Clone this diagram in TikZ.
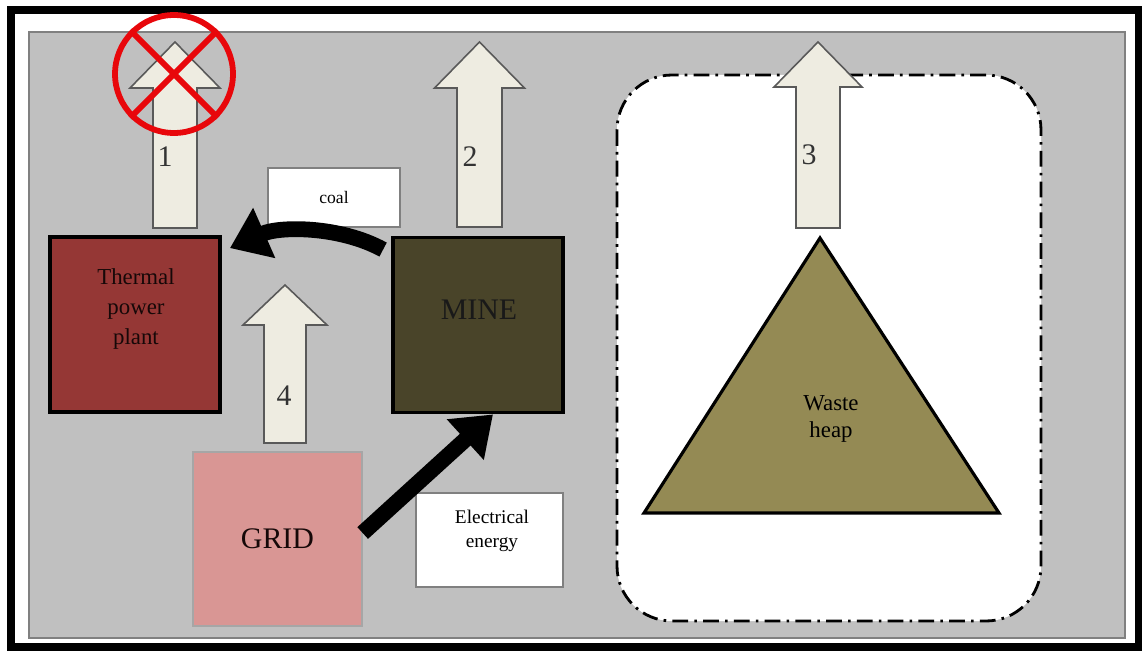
\documentclass[tikz,border=0pt]{standalone}
\usepackage{fontspec}
\setmainfont{Liberation Serif}
\usetikzlibrary{arrows.meta,calc,positioning}
\definecolor{PanelGray}{HTML}{C0C0C0}
\definecolor{PanelEdge}{HTML}{808080}
\definecolor{PlantRed}{HTML}{953735}
\definecolor{MineOlive}{HTML}{494429}
\definecolor{GridPink}{HTML}{D99694}
\definecolor{HeapOlive}{HTML}{948A54}
\definecolor{Emission}{HTML}{EEECE1}
\definecolor{EmissionEdge}{HTML}{595959}
\definecolor{BanRed}{HTML}{E8070B}
\tikzset{
  site/.style={draw=black, line width=2.2pt, minimum width=3.4cm, minimum height=3.5cm, inner sep=0pt},
  tag/.style={draw=PanelEdge, fill=white, line width=0.8pt, inner sep=0pt},
  emission/.style={draw=EmissionEdge, fill=Emission, line width=0.9pt, line join=miter},
  supply/.style={-{Triangle[length=0.75cm,width=1.05cm]}, line width=9pt, draw=black},
  boxtext/.style={align=center, font=\fontsize{13}{17}\selectfont},
  numtext/.style={font=\fontsize{17}{20}\selectfont, text=black!80}
}
% centre x, foot y, shoulder y, tip y, half shaft, half head
\newcommand{\emissionarrow}[6]{%
  \draw[emission] ({#1-#5},#2) -- ({#1-#5},#3) -- ({#1-#6},#3) -- (#1,#4)
    -- ({#1+#6},#3) -- ({#1+#5},#3) -- ({#1+#5},#2) -- cycle;}

\begin{document}
\begin{tikzpicture}[x=0.02cm,y=-0.02cm]
  \useasboundingbox (0,0) rectangle (1146,652);
  % frame and panel
  \draw[line width=4pt] (11,10) rectangle (1138,647);
  \draw[fill=PanelGray, draw=PanelEdge, line width=1.2pt] (29,32) rectangle (1125,638);
  % waste heap zone
  \draw[fill=white, line width=1.6pt, rounded corners=1.1cm,
    dash pattern=on 9pt off 3.5pt on 1.5pt off 3.5pt] (617,75) rectangle (1041,621);
  \draw[fill=HeapOlive, line width=1.8pt, line join=miter] (644,513) -- (820,238) -- (999,513) -- cycle;
  \node[boxtext, font=\fontsize{13}{15.5}\selectfont] (heap) at (831,419) {Waste\\heap};

  % sites
  \node[site, fill=PlantRed] (tpp) at (135,324.5) {};
  \node[boxtext, text=black!85!PlantRed] (tpptext) at (136,309) {Thermal\\power\\plant};
  \node[site, fill=MineOlive, font=\fontsize{17}{20}\selectfont] (mine) at (478,325) {};
  \node[font=\fontsize{17}{20}\selectfont, text=black!90] (minetext) at (479,310) {MINE};
  \node[site, fill=GridPink, draw=PanelEdge!70, line width=0.8pt, minimum width=3.38cm,
    minimum height=3.48cm, font=\fontsize{17}{20}\selectfont, text=black!85!PlantRed] (grid) at (277.5,539) {GRID};

  % labels
  \node[tag, minimum width=2.64cm, minimum height=1.18cm, font=\fontsize{10}{12}\selectfont] (coal) at (334,197.5) {coal};
  \node[tag, minimum width=2.94cm, minimum height=1.88cm] (elec) at (489.5,540) {};
  \node[align=center, font=\fontsize{11}{14}\selectfont] (electext) at (492,531) {Electrical\\energy};

  % emissions
  \emissionarrow{175}{228}{88}{42}{22}{45}
  \emissionarrow{479.5}{227}{88}{42}{22.5}{45}
  \emissionarrow{818}{228}{87}{42}{22}{44}
  \emissionarrow{285}{443}{325}{285}{21}{42}
  \node[numtext] (n1) at (165,157) {1};
  \node[numtext] (n2) at (470,157) {2};
  \node[numtext] (n3) at (809,155) {3};
  \node[numtext] (n4) at (284,396) {4};

  % ban on emission 1
  \node[circle, draw=BanRed, line width=3.3pt, minimum size=2.36cm, inner sep=0pt] (ban) at (174,74) {};
  \draw[BanRed, line width=3.3pt] (ban.north west) -- (ban.south east);
  \draw[BanRed, line width=3.3pt] (ban.north east) -- (ban.south west);

  % flows
  \draw[supply] ($(mine.north west)+(-8,14)$) .. controls (340,226) and (280,226) .. ($(tpp.north east)+(8,13)$);
  \draw[supply] ($(grid.east)+(0,-6)$) -- ($(mine.south)+(15,0)$);
\end{tikzpicture}
\end{document}
